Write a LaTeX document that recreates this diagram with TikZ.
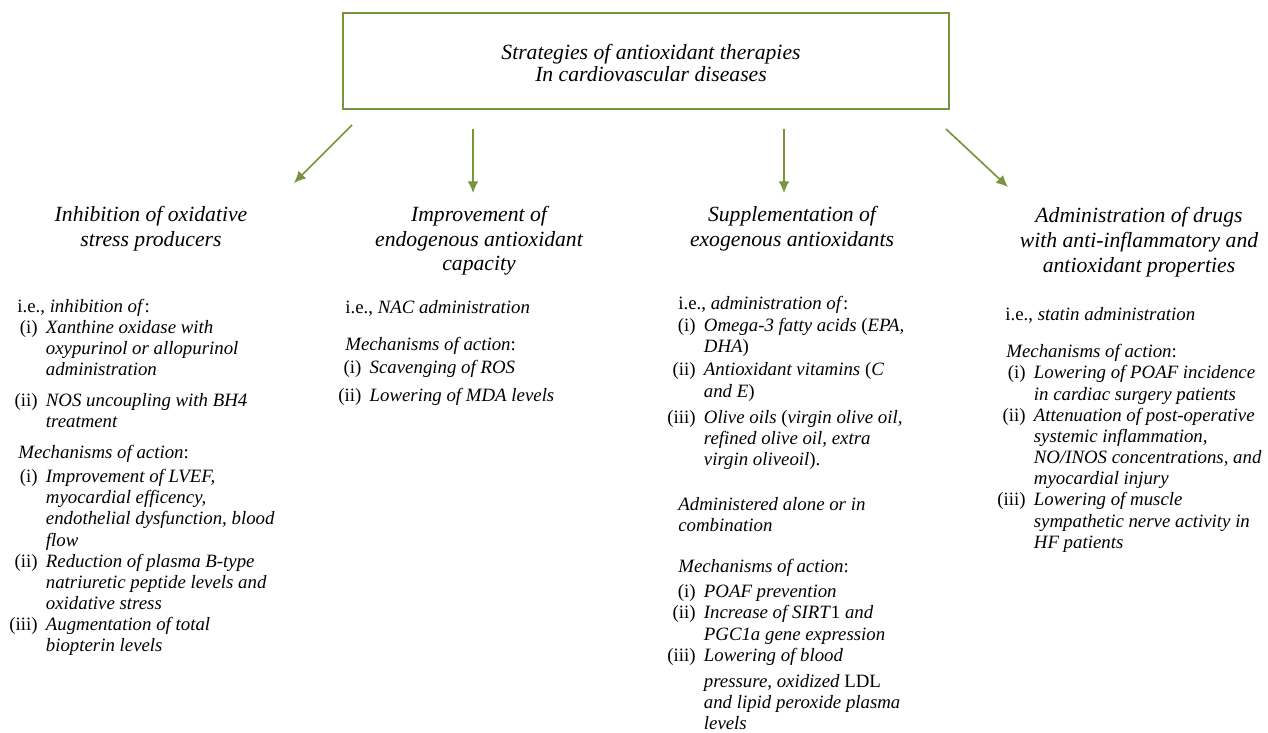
\documentclass[tikz,border=0pt]{standalone}
\usepackage{fontspec}
\setmainfont{Liberation Serif}
\usetikzlibrary{arrows.meta}

\definecolor{olivegreen}{RGB}{120,148,60}
\newcommand{\leadline}[2]{\multicolumn{2}{@{\hspace{#1}}l@{}}{#2}}

\begin{document}
\begin{tikzpicture}[x=0.6pt, y=-0.6pt,
  titlebox/.style={draw=olivegreen, line width=1.2pt, minimum width=363.6pt, minimum height=57.6pt, inner sep=0pt, font=\fontsize{13}{13.2}\selectfont\itshape},
  head/.style={inner sep=0pt, anchor=base, font=\fontsize{13}{15}\selectfont\itshape},
  body/.style={inner sep=0pt, anchor=base west, font=\fontsize{11.3}{12.7}\selectfont},
  branch/.style={draw=olivegreen, line width=1pt, -{Latex[length=7pt,width=6.5pt]}}]

\useasboundingbox (0,0) rectangle (1268,733);

\node [titlebox] (title) at (646,61) {\hspace*{6pt}\raisebox{-2.8pt}[\height][\depth]{\begin{tabular}{@{}c@{}}Strategies of antioxidant therapies\\In cardiovascular diseases\end{tabular}}};

\coordinate (t1) at (352,125);
\coordinate (t2) at (473,129);
\coordinate (t3) at (784,129);
\coordinate (t4) at (946,129);
\coordinate (h1) at (294,183);
\coordinate (h2) at (473,193);
\coordinate (h3) at (784,193);
\coordinate (h4) at (1008,187);
\draw [branch] (t1) -- (h1);
\draw [branch] (t2) -- (h2);
\draw [branch] (t3) -- (h3);
\draw [branch] (t4) -- (h4);

\node [head] (head1) at (151,221) {\begin{tabular}[t]{@{}c@{}}Inhibition of oxidative\\stress producers\end{tabular}};
\node [head] (head2) at (479,221) {\begin{tabular}[t]{@{}c@{}}Improvement of\\endogenous antioxidant\\capacity\end{tabular}};
\node [head] (head3) at (792,221) {\begin{tabular}[t]{@{}c@{}}Supplementation of\\exogenous antioxidants\end{tabular}};
\node [head] (head4) at (1139,223) {\begin{tabular}[t]{@{}c@{}}Administration of drugs\\with anti-inflammatory and\\antioxidant properties\end{tabular}};

\node [body] (body1) at (9,312) {\begin{tabular}[t]{@{}r@{\hspace{5pt}}l@{}}
\leadline{4.8pt}{i.e., \textit{inhibition of}:}\\
(i) & \textit{Xanthine oxidase with}\\
& \textit{oxypurinol or allopurinol}\\
& \textit{administration}\\[6pt]
(ii) & \textit{NOS uncoupling with BH4}\\
& \textit{treatment}\\[5.5pt]
\leadline{5.4pt}{\textit{Mechanisms of action}:}\\[2pt]
(i) & \textit{Improvement of LVEF,}\\
& \textit{myocardial efficency,}\\
& \textit{endothelial dysfunction, blood}\\
& \textit{flow}\\
(ii) & \textit{Reduction of plasma B-type}\\
& \textit{natriuretic peptide levels and}\\
& \textit{oxidative stress}\\
(iii) & \textit{Augmentation of total}\\
& \textit{biopterin levels}
\end{tabular}};

\node [body] (body2) at (338,313) {\begin{tabular}[t]{@{}r@{\hspace{5pt}}l@{}}
\leadline{4.2pt}{i.e., \textit{NAC administration}}\\[9.5pt]
\leadline{4.2pt}{\textit{Mechanisms of action}:}\\[1.7pt]
(i) & \textit{Scavenging of ROS}\\[4pt]
(ii) & \textit{Lowering of MDA levels}
\end{tabular}};

\node [body] (body3) at (667,310) {\begin{tabular}[t]{@{}r@{\hspace{5pt}}l@{}}
\leadline{6.6pt}{i.e., \textit{administration of}:}\\
(i) & \textit{Omega-3 fatty acids} (\textit{EPA,}\\
& \textit{DHA})\\[1.5pt]
(ii) & \textit{Antioxidant vitamins} (\textit{C}\\
& \textit{and E})\\[3pt]
(iii) & \textit{Olive oils} (\textit{virgin olive oil,}\\
& \textit{refined olive oil, extra}\\
& \textit{virgin oliveoil}).\\[14pt]
\leadline{6.6pt}{\textit{Administered alone or in}}\\
\leadline{6.6pt}{\textit{combination}}\\[12pt]
\leadline{6.6pt}{\textit{Mechanisms of action}:}\\[2.5pt]
(i) & \textit{POAF prevention}\\
(ii) & \textit{Increase of SIRT}1 \textit{and}\\
& \textit{PGC1a gene expression}\\
(iii) & \textit{Lowering of blood}\\[3pt]
& \textit{pressure, oxidized} LDL\\
& \textit{and lipid peroxide plasma}\\
& \textit{levels}
\end{tabular}};

\node [body] (body4) at (997,320) {\begin{tabular}[t]{@{}r@{\hspace{5pt}}l@{}}
\leadline{4.8pt}{i.e., \textit{statin administration}}\\[10pt]
\leadline{5.4pt}{\textit{Mechanisms of action}:}\\
(i) & \textit{Lowering of POAF incidence}\\
& \textit{in cardiac surgery patients}\\
(ii) & \textit{Attenuation of post-operative}\\
& \textit{systemic inflammation,}\\
& \textit{NO/INOS concentrations, and}\\
& \textit{myocardial injury}\\
(iii) & \textit{Lowering of muscle}\\
& \textit{sympathetic nerve activity in}\\
& \textit{HF patients}
\end{tabular}};

\end{tikzpicture}
\end{document}
